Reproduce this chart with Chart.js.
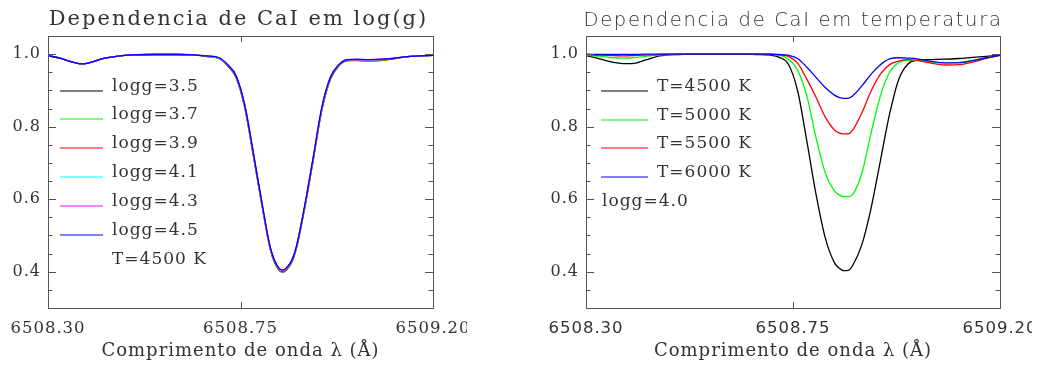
<!DOCTYPE html>
<html>
<head>
<meta charset="utf-8">
<script src="https://cdn.jsdelivr.net/npm/chart.js@4.4.0/dist/chart.umd.min.js"></script>
<style>
  html, body { margin: 0; padding: 0; background: #fff; }
  body { width: 1053px; height: 370px; position: relative; overflow: hidden; }
  .panel { position: absolute; top: 0; height: 370px; }
  #leftBox { left: 0; width: 467px; }
  #rightBox { left: 520px; width: 512px; }
</style>
</head>
<body>
<div class="panel" id="leftBox"><canvas id="loggChart"></canvas></div>
<div class="panel" id="rightBox"><canvas id="tempChart"></canvas></div>
<script>
// Comprimento de onda (A)
const wavelength = [6508.30, 6508.33, 6508.36, 6508.38, 6508.40, 6508.43, 6508.46, 6508.50, 6508.55, 6508.60,
  6508.64, 6508.67, 6508.70, 6508.72, 6508.74, 6508.76, 6508.78, 6508.80, 6508.82, 6508.84,
  6508.85, 6508.86, 6508.87, 6508.88, 6508.90, 6508.92, 6508.94, 6508.96, 6508.98, 6509.00,
  6509.02, 6509.05, 6509.08, 6509.11, 6509.14, 6509.17, 6509.20];

// Painel esquerdo: T=4500 K, varios log(g)
const loggLabels = ['logg=3.5', 'logg=3.7', 'logg=3.9', 'logg=4.1', 'logg=4.3', 'logg=4.5'];
const loggColors = ['#000000', '#00ff00', '#ff0000', '#00ffff', '#ff00ff', '#0000ff'];
const fluxLogg35 = [0.996, 0.988, 0.977, 0.973, 0.977, 0.988, 0.994, 0.998, 0.999, 0.999, 0.998, 0.994, 0.988, 0.968, 0.934, 0.852, 0.720, 0.584, 0.460, 0.404, 0.399, 0.408, 0.426, 0.461, 0.575, 0.708, 0.845, 0.930, 0.968, 0.982, 0.983, 0.981, 0.983, 0.988, 0.993, 0.995, 0.997];
const fluxLogg37 = [0.996, 0.988, 0.977, 0.973, 0.977, 0.988, 0.994, 0.998, 0.999, 0.999, 0.998, 0.994, 0.988, 0.969, 0.935, 0.854, 0.722, 0.585, 0.461, 0.405, 0.400, 0.409, 0.427, 0.462, 0.576, 0.709, 0.846, 0.931, 0.968, 0.982, 0.982, 0.980, 0.982, 0.988, 0.993, 0.995, 0.997];
const fluxLogg39 = [0.996, 0.988, 0.977, 0.973, 0.977, 0.988, 0.994, 0.998, 0.999, 0.999, 0.998, 0.994, 0.989, 0.969, 0.937, 0.856, 0.724, 0.587, 0.462, 0.406, 0.401, 0.410, 0.428, 0.463, 0.578, 0.711, 0.848, 0.932, 0.969, 0.983, 0.984, 0.982, 0.984, 0.988, 0.993, 0.995, 0.997];
const fluxLogg41 = [0.996, 0.988, 0.977, 0.973, 0.977, 0.988, 0.994, 0.998, 0.999, 0.999, 0.998, 0.995, 0.989, 0.970, 0.938, 0.857, 0.726, 0.588, 0.464, 0.408, 0.403, 0.412, 0.430, 0.465, 0.579, 0.713, 0.850, 0.934, 0.970, 0.984, 0.985, 0.983, 0.985, 0.989, 0.993, 0.995, 0.997];
const fluxLogg43 = [0.996, 0.988, 0.977, 0.973, 0.977, 0.988, 0.994, 0.998, 0.999, 0.999, 0.998, 0.995, 0.990, 0.970, 0.939, 0.858, 0.727, 0.590, 0.465, 0.409, 0.404, 0.413, 0.431, 0.466, 0.581, 0.714, 0.851, 0.935, 0.971, 0.985, 0.985, 0.984, 0.986, 0.989, 0.993, 0.995, 0.997];
const fluxLogg45 = [0.996, 0.988, 0.977, 0.973, 0.977, 0.988, 0.994, 0.998, 0.999, 0.999, 0.998, 0.995, 0.990, 0.971, 0.940, 0.860, 0.729, 0.591, 0.466, 0.410, 0.405, 0.414, 0.432, 0.467, 0.582, 0.716, 0.853, 0.936, 0.971, 0.985, 0.986, 0.985, 0.986, 0.989, 0.993, 0.995, 0.997];

// Painel direito: logg=4.0, varias temperaturas
const tempLabels = ['T=4500 K', 'T=5000 K', 'T=5500 K', 'T=6000 K'];
const tempColors = ['#000000', '#00ff00', '#ff0000', '#0000ff'];
const fluxT4500 = [0.996, 0.987, 0.977, 0.974, 0.974, 0.984, 0.995, 0.999, 1.000, 1.000, 1.000, 0.999, 0.997, 0.991, 0.972, 0.899, 0.761, 0.614, 0.494, 0.425, 0.410, 0.403, 0.404, 0.418, 0.476, 0.577, 0.706, 0.835, 0.931, 0.973, 0.983, 0.985, 0.986, 0.988, 0.991, 0.994, 0.997];
const fluxT5000 = [0.997, 0.994, 0.990, 0.989, 0.990, 0.994, 0.998, 0.999, 1.000, 1.000, 1.000, 1.000, 0.999, 0.997, 0.986, 0.956, 0.885, 0.770, 0.673, 0.623, 0.612, 0.607, 0.607, 0.613, 0.673, 0.784, 0.885, 0.950, 0.977, 0.983, 0.982, 0.978, 0.976, 0.977, 0.982, 0.990, 0.997];
const fluxT5500 = [0.999, 0.997, 0.996, 0.995, 0.996, 0.997, 0.999, 1.000, 1.000, 1.000, 1.000, 1.000, 1.000, 0.998, 0.994, 0.975, 0.931, 0.881, 0.827, 0.791, 0.783, 0.780, 0.780, 0.791, 0.839, 0.899, 0.945, 0.971, 0.981, 0.985, 0.983, 0.975, 0.970, 0.971, 0.978, 0.988, 0.997];
const fluxT6000 = [1.000, 0.999, 0.999, 0.999, 0.999, 1.000, 1.000, 1.000, 1.000, 1.000, 1.000, 1.000, 1.000, 0.999, 0.997, 0.988, 0.964, 0.936, 0.908, 0.887, 0.881, 0.878, 0.878, 0.885, 0.913, 0.945, 0.971, 0.987, 0.990, 0.989, 0.987, 0.980, 0.976, 0.976, 0.982, 0.990, 0.997];

// Eixos
const xTicks = [6508.30, 6508.75, 6509.20];
const yTicks = [0.4, 0.6, 0.8, 1.0];
const yMinorStep = 0.05;
const xLabel = 'Comprimento de onda \u03bb (\u00c5)';

const serif = "'DejaVu Serif', 'Liberation Serif', serif";
const sans = "'DejaVu Sans', 'Liberation Sans', sans-serif";
const ink = '#333';

// Moldura estilo IDL, ticks para dentro, titulo e legenda
const idlFrame = {
  id: 'idlFrame',
  beforeDraw(chart) { chart.ctx.letterSpacing = '1px'; },
  afterDraw(chart, args, o) {
    const { ctx, chartArea: a, scales: { x, y } } = chart;
    ctx.save();
    ctx.strokeStyle = '#555';
    ctx.lineWidth = 1;
    ctx.strokeRect(a.left + 0.5, a.top + 0.5, a.right - a.left, a.bottom - a.top);
    ctx.beginPath();
    for (let v = y.min; v <= y.max + 1e-9; v += yMinorStep) {
      const r = Math.round(v * 100) / 100;
      const py = Math.round(y.getPixelForValue(r)) + 0.5;
      const len = yTicks.some(t => Math.abs(t - r) < 1e-6) ? 8 : 4.5;
      ctx.moveTo(a.left, py); ctx.lineTo(a.left + len, py);
      ctx.moveTo(a.right, py); ctx.lineTo(a.right - len, py);
    }
    xTicks.forEach(t => {
      const px = Math.round(x.getPixelForValue(t)) + 0.5;
      ctx.moveTo(px, a.bottom); ctx.lineTo(px, a.bottom - 6);
      ctx.moveTo(px, a.top); ctx.lineTo(px, a.top + 6);
    });
    ctx.stroke();

    // titulo
    ctx.fillStyle = ink;
    ctx.font = o.titleFont;
    ctx.letterSpacing = o.titleSpacing;
    ctx.textAlign = 'center';
    ctx.textBaseline = 'alphabetic';
    ctx.fillText(o.title, (a.left + a.right) / 2 + o.titleShift, o.titleBaseline);

    // legenda
    const lg = o.legend;
    ctx.font = '17px ' + serif;
    ctx.letterSpacing = '1px';
    ctx.textAlign = 'left';
    chart.data.datasets.forEach((ds, i) => {
      const yb = a.top + lg.top + i * lg.gap;
      ctx.strokeStyle = ds.borderColor;
      ctx.lineWidth = 1.2;
      ctx.beginPath();
      ctx.moveTo(a.left + lg.line[0], Math.round(yb));
      ctx.lineTo(a.left + lg.line[1], Math.round(yb));
      ctx.stroke();
      ctx.fillText(ds.label, a.left + lg.textX, yb);
    });
    const n = chart.data.datasets.length;
    ctx.fillText(lg.note, a.left + lg.noteX, a.top + lg.top + n * lg.gap);
    ctx.restore();
  }
};

function makeChart(id, labels, colors, series, o) {
  const datasets = series.map((s, i) => ({
    label: labels[i],
    data: wavelength.map((w, j) => ({ x: w, y: s[j] })),
    borderColor: colors[i],
    borderWidth: 1.3,
    pointRadius: 0,
    fill: false,
    cubicInterpolationMode: 'monotone',
    order: series.length - i
  }));
  return new Chart(document.getElementById(id), {
    type: 'line',
    data: { datasets },
    plugins: [idlFrame],
    options: {
      responsive: true, maintainAspectRatio: false, animation: false,
      layout: { padding: { top: 36, right: o.padRight, left: 0, bottom: 0 } },
      plugins: {
        legend: { display: false }, tooltip: { enabled: false },
        idlFrame: o
      },
      scales: {
        x: {
          type: 'linear', min: xTicks[0], max: xTicks[xTicks.length - 1],
          grid: { display: false, drawTicks: false }, border: { display: false },
          afterBuildTicks: s => { s.ticks = xTicks.map(v => ({ value: v })); },
          afterFit: s => { s.height = 62; s.paddingLeft = 0; s.paddingRight = 0; },
          ticks: { color: ink, font: { family: o.xTickFamily, size: 16.5 }, padding: 11, maxRotation: 0, autoSkip: false,
            callback: v => v.toFixed(2) },
          title: { display: true, text: xLabel, color: ink, font: { family: serif, size: 18 }, padding: { top: 0, bottom: 8 } }
        },
        y: {
          min: 0.30, max: 1.05,
          grid: { display: false, drawTicks: false }, border: { display: false },
          afterBuildTicks: s => { s.ticks = yTicks.map(v => ({ value: v })); },
          afterFit: s => { s.width = o.yWidth; s.paddingTop = 0; s.paddingBottom = 0; },
          ticks: { color: ink, font: { family: serif, size: 16 }, padding: 7, callback: v => v.toFixed(1) }
        }
      }
    }
  });
}

const loggChart = makeChart('loggChart', loggLabels, loggColors,
  [fluxLogg35, fluxLogg37, fluxLogg39, fluxLogg41, fluxLogg43, fluxLogg45], {
    title: 'Dependencia de CaI em log(g)', titleFont: '21px ' + serif, titleSpacing: '2px',
    titleBaseline: 25, titleShift: -2,
    yWidth: 48, padRight: 34, xTickFamily: serif,
    legend: { top: 54.5, gap: 28.9, line: [12, 55], textX: 64, note: 'T=4500 K', noteX: 64 }
  });

const tempChart = makeChart('tempChart', tempLabels, tempColors,
  [fluxT4500, fluxT5000, fluxT5500, fluxT6000], {
    title: 'Dependencia de CaI em temperatura', titleFont: '200 19.5px ' + sans, titleSpacing: '1.7px',
    titleBaseline: 26, titleShift: 0,
    yWidth: 66, padRight: 32, xTickFamily: sans,
    legend: { top: 55, gap: 28.7, line: [15, 62], textX: 71, note: 'logg=4.0', noteX: 16 }
  });
</script>
</body>
</html>
